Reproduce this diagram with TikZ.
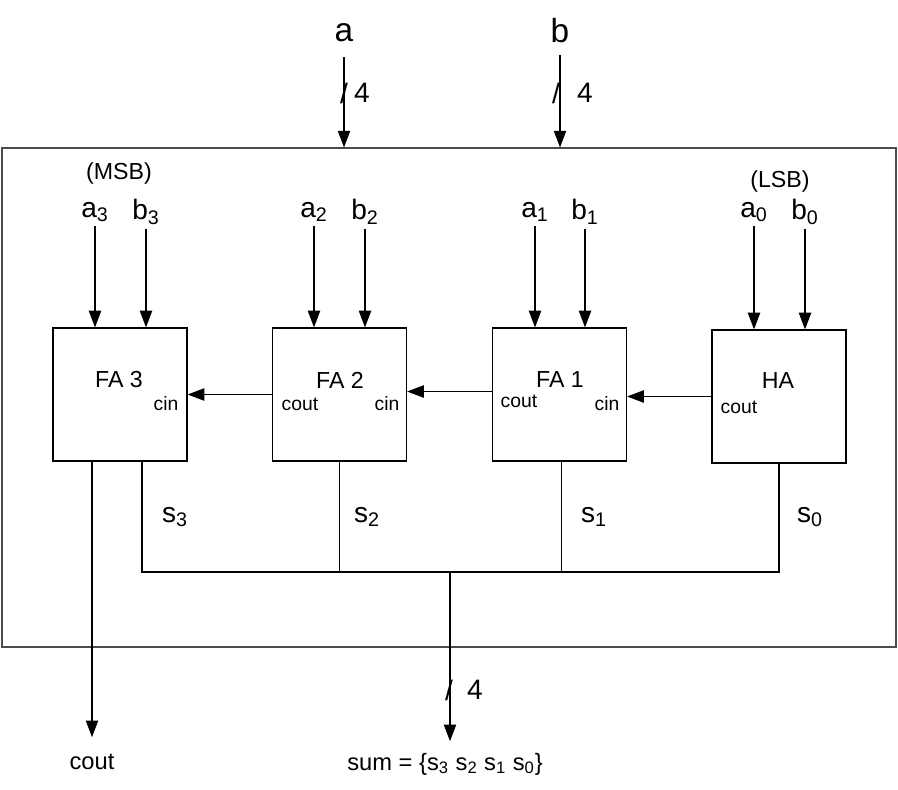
\documentclass[tikz,border=0pt]{standalone}
\usepackage{fontspec}
\setmainfont{Liberation Sans}
\usetikzlibrary{arrows.meta,calc}

\begin{document}
\begin{tikzpicture}[x=0.02cm, y=-0.02cm, line width=0.7pt, >={Triangle[length=9.5pt,width=7pt]}]
	\tikzstyle{block} = [draw, minimum width=2.68cm, minimum height=2.66cm, inner sep=0pt]
	\tikzstyle{busname} = [font=\fontsize{19}{22}\selectfont]
	\tikzstyle{bits} = [font=\fontsize{16}{19}\selectfont, inner sep=0pt]
	\tikzstyle{bit} = [font=\fontsize{16}{19}\selectfont, inner sep=2pt]
	\tikzstyle{title} = [font=\fontsize{13.2}{16}\selectfont]
	\tikzstyle{port} = [font=\fontsize{11}{13}\selectfont, inner sep=0pt]
	\tikzstyle{outname} = [font=\fontsize{13.5}{16}\selectfont]
	\useasboundingbox (0,0) rectangle (898,789);
	\node[draw=black!70, minimum width=17.88cm, minimum height=9.98cm, inner sep=0pt] (adder) at (449,397.5) {};
	\node[busname] (a) at (344,33) {a};
	\node[busname] (b) at (560,31) {b};
	\draw[->, shorten <=5pt] (a.south) -- (a.south |- adder.north);
	\draw[->, shorten <=3pt] (b.south) -- (b.south |- adder.north);
	\node[bits] (aslash) at (344,93) {/};
	\node[bits] (afour) at (362,93) {4};
	\node[bits] (bslash) at (556,93) {/};
	\node[bits] (bfour) at (585,93) {4};
	\node[block] (fa3) at (120,394.5) {};
	\node[block] (fa2) at (339.5,394.5) {};
	\node[block] (fa1) at (559.5,394.5) {};
	\node[block] (ha) at (779,396.5) {};
	\node[title] (fa3t) at (119,380) {FA 3};
	\node[title] (fa2t) at (340,380) {FA 2};
	\node[title] (fa1t) at (560,380) {FA 1};
	\node[title] (hat) at (778,381) {HA};
	\node[port] (fa3cin) at (166,404) {cin};
	\node[port] (fa2cout) at (300,404) {cout};
	\node[port] (fa2cin) at (387,404) {cin};
	\node[port] (fa1cout) at (519,401) {cout};
	\node[port] (fa1cin) at (607,404) {cin};
	\node[port] (hacout) at (739,407) {cout};
	\node[title] (msb) at (119,173) {(MSB)};
	\node[title] (lsb) at (780,181) {(LSB)};
	\node[bit] (a3) at (95,212) {a\textsubscript{3}};
	\node[bit] (b3) at (146,212) {b\textsubscript{3}};
	\node[bit] (a2) at (314,212) {a\textsubscript{2}};
	\node[bit] (b2) at (365,212) {b\textsubscript{2}};
	\node[bit] (a1) at (535,212) {a\textsubscript{1}};
	\node[bit] (b1) at (585,212) {b\textsubscript{1}};
	\node[bit] (a0) at (754,212) {a\textsubscript{0}};
	\node[bit] (b0) at (805,212) {b\textsubscript{0}};
	\draw[->] (a3.south) -- (a3.south |- fa3.north);
	\draw[->] (b3.south) -- (b3.south |- fa3.north);
	\draw[->] (a2.south) -- (a2.south |- fa2.north);
	\draw[->] (b2.south) -- (b2.south |- fa2.north);
	\draw[->] (a1.south) -- (a1.south |- fa1.north);
	\draw[->] (b1.south) -- (b1.south |- fa1.north);
	\draw[->] (a0.south) -- (a0.south |- ha.north);
	\draw[->] (b0.south) -- (b0.south |- ha.north);
	\draw[->] (fa2.west) -- (fa3.east);
	\draw[->] ($(fa1.west)+(0,-3)$) -- ($(fa2.east)+(0,-3)$);
	\draw[->] (ha.west) -- (ha.west -| fa1.east);
	\node[bit] (s3) at (175,517) {s\textsubscript{3}};
	\node[bit] (s2) at (367,517) {s\textsubscript{2}};
	\node[bit] (s1) at (594,517) {s\textsubscript{1}};
	\node[bit] (s0) at (810,517) {s\textsubscript{0}};
	\coordinate (bus) at (450,572);
	\draw ($(fa3.south)+(22,0)$) |- (bus) -| (ha.south);
	\draw (fa2.south) -- (fa2.south |- bus);
	\draw ($(fa1.south)+(2,0)$) -- ($(fa1.south |- bus)+(2,0)$);
	\node[outname] (cout) at (92,762) {cout};
	\node[outname] (sum) at (445,764) {sum = \{s\textsubscript{3} s\textsubscript{2} s\textsubscript{1} s\textsubscript{0}\}};
	\draw[->, shorten >=6pt] ($(fa3.south)+(-28,0)$) -- (cout.north);
	\draw[->, shorten >=3pt] (bus) -- (bus |- sum.north);
	\node[bits] (sslash) at (449,690) {/};
	\node[bits] (sfour) at (475,690) {4};
\end{tikzpicture}
\end{document}
